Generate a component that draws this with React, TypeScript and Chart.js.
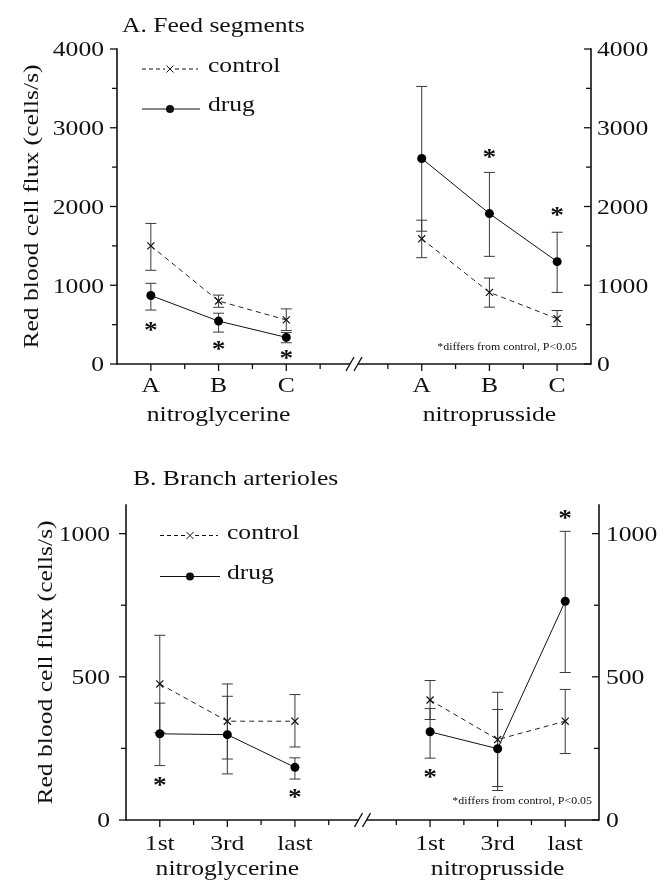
import React, { useEffect, useRef } from 'react';
import { Chart, registerables } from 'chart.js';

Chart.register(...registerables);

const FONT_FAMILY = '"Liberation Serif", "Times New Roman", serif';
const FONT_SIZE = 21.5;
const STRETCH = 1.19;
const INK = '#111111';
const ERR_COLOR = '#3a3a3a';

// shared x layout (linear positions; 7 is the axis break)
const xPositions = [1, 3, 5, 9, 11, 13];
const minorXTicks = [2, 4, 6, 8, 10, 12];
const xMin = 0;
const xMax = 14;
const breakAt = 7;
const groupNames = ['nitroglycerine', 'nitroprusside'];
const groupCenterIndex = [1, 4];
const seriesNames = ['control', 'drug'];
const footnote = '*differs from control, P<0.05';

// ---- Panel A: Feed segments ----
const titleA = 'A. Feed segments';
const categoriesA = ['A', 'B', 'C', 'A', 'B', 'C'];
const controlA = [1500, 800, 560, 1590, 910, 575];
const controlAHigh = [1785, 875, 700, 1826, 1091, 679];
const controlALow = [1190, 720, 425, 1350, 722, 476];
const drugA = [870, 545, 338, 2610, 1910, 1300];
const drugAHigh = [1025, 645, 400, 3525, 2433, 1673];
const drugALow = [685, 405, 270, 1686, 1367, 909];
const starsAX = [1, 3, 5, 11, 13];
const starsAY = [477, 245, 120, 2679, 1936];
const yMaxA = 4000;
const yStepA = 500;
const yLabelStepA = 1000;

// ---- Panel B: Branch arterioles ----
const titleB = 'B. Branch arterioles';
const categoriesB = ['1st', '3rd', 'last', '1st', '3rd', 'last'];
const controlB = [475, 345, 345, 419, 281, 345];
const controlBHigh = [645, 475, 438, 487, 446, 456];
const controlBLow = [305, 213, 255, 351, 117, 232];
const drugB = [301, 298, 184, 308, 249, 764];
const drugBHigh = [408, 432, 217, 389, 386, 1008];
const drugBLow = [190, 161, 143, 216, 103, 515];
const starsBX = [1, 5, 9, 13];
const starsBY = [134, 94, 162, 1069];
const yMaxB = 1100;
const yStepB = 250;
const yLabelStepB = 500;

const yAxisTitle = 'Red blood cell flux (cells/s)';

type Layout = {
  id: string;
  width: number;
  height: number;
  top: number;
  area: { left: number; right: number; top: number; bottom: number };
  titleX: number;
  titleBase: number;
  yTitleX: number;
  leftLabelX: number;
  rightLabelX: number;
  xLabelOffset: number;
  groupOffset: number;
  legend: { x0: number; x1: number; mx: number; textX: number; cY: number; cBase: number; dY: number; dBase: number };
  footRight: number;
  footOffset: number;
};

type PanelDef = {
  layout: Layout;
  title: string;
  categories: string[];
  control: number[];
  controlHigh: number[];
  controlLow: number[];
  drug: number[];
  drugHigh: number[];
  drugLow: number[];
  starsX: number[];
  starsY: number[];
  yMax: number;
  yStep: number;
  yLabelStep: number;
};

const panels: PanelDef[] = [
  {
    layout: {
      id: 'A',
      width: 671,
      height: 440,
      top: 0,
      area: { left: 117, right: 591, top: 49, bottom: 364 },
      titleX: 122,
      titleBase: 31.5,
      yTitleX: 38,
      leftLabelX: 104,
      rightLabelX: 597,
      xLabelOffset: 28,
      groupOffset: 57,
      legend: { x0: 142, x1: 198, mx: 170, textX: 208, cY: 69, cBase: 72, dY: 109, dBase: 111 },
      footRight: 577,
      footOffset: 14,
    },
    title: titleA,
    categories: categoriesA,
    control: controlA,
    controlHigh: controlAHigh,
    controlLow: controlALow,
    drug: drugA,
    drugHigh: drugAHigh,
    drugLow: drugALow,
    starsX: starsAX,
    starsY: starsAY,
    yMax: yMaxA,
    yStep: yStepA,
    yLabelStep: yLabelStepA,
  },
  {
    layout: {
      id: 'B',
      width: 671,
      height: 445,
      top: 440,
      area: { left: 126, right: 599, top: 65, bottom: 380 },
      titleX: 133,
      titleBase: 45,
      yTitleX: 52,
      leftLabelX: 110,
      rightLabelX: 606,
      xLabelOffset: 29.5,
      groupOffset: 55,
      legend: { x0: 160, x1: 218, mx: 190, textX: 227, cY: 95.5, cBase: 99, dY: 136.5, dBase: 139 },
      footRight: 592,
      footOffset: 16,
    },
    title: titleB,
    categories: categoriesB,
    control: controlB,
    controlHigh: controlBHigh,
    controlLow: controlBLow,
    drug: drugB,
    drugHigh: drugBHigh,
    drugLow: drugBLow,
    starsX: starsBX,
    starsY: starsBY,
    yMax: yMaxB,
    yStep: yStepB,
    yLabelStep: yLabelStepB,
  },
];

function drawText(
  ctx: CanvasRenderingContext2D,
  s: string,
  x: number,
  y: number,
  size: number,
  align: CanvasTextAlign,
  rotate = false,
  weight = 'normal'
) {
  ctx.save();
  ctx.translate(x, y);
  if (rotate) ctx.rotate(-Math.PI / 2);
  ctx.scale(STRETCH, 1);
  ctx.font = `${weight} ${size}px ${FONT_FAMILY}`;
  ctx.fillStyle = INK;
  ctx.textAlign = align;
  ctx.textBaseline = 'alphabetic';
  ctx.fillText(s, 0, 0);
  ctx.restore();
}

function seg(ctx: CanvasRenderingContext2D, x1: number, y1: number, x2: number, y2: number) {
  ctx.beginPath();
  ctx.moveTo(x1, y1);
  ctx.lineTo(x2, y2);
  ctx.stroke();
}

function seriesPoints(values: number[]) {
  const pts: { x: number; y: number | null }[] = [];
  xPositions.forEach((x, i) => {
    if (i === 3) pts.push({ x: breakAt, y: null });
    pts.push({ x, y: values[i] });
  });
  return pts;
}

function makePlugin(p: PanelDef) {
  const L = p.layout;
  return {
    id: 'panelDecor' + L.id,
    beforeDatasetsDraw(chart: any) {
      const ctx: CanvasRenderingContext2D = chart.ctx;
      const xs = chart.scales.x;
      const ys = chart.scales.y;
      const a = chart.chartArea;
      ctx.save();
      ctx.strokeStyle = INK;
      ctx.lineWidth = 1.6;
      ctx.lineCap = 'square';
      // y axes
      seg(ctx, a.left, a.top, a.left, a.bottom);
      seg(ctx, a.right, a.top, a.right, a.bottom);
      // x axis with break
      const bx = xs.getPixelForValue(breakAt);
      ctx.lineCap = 'butt';
      seg(ctx, a.left, a.bottom, bx - 4, a.bottom);
      seg(ctx, bx + 4, a.bottom, a.right, a.bottom);
      ctx.lineWidth = 1.4;
      for (const c of [bx - 4, bx + 4]) seg(ctx, c - 4, a.bottom + 7, c + 4, a.bottom - 7);
      // y ticks
      ctx.lineWidth = 1.3;
      for (const t of ys.ticks) {
        const v = t.value;
        if (v % p.yStep !== 0 || v > p.yMax) continue;
        const py = ys.getPixelForValue(v);
        const len = v % p.yLabelStep === 0 ? 7 : 5;
        seg(ctx, a.left - len, py, a.left, py);
        seg(ctx, a.right - len, py, a.right, py);
      }
      // x ticks
      for (const v of xPositions) {
        const px = xs.getPixelForValue(v);
        seg(ctx, px, a.bottom, px, a.bottom + 7);
      }
      for (const v of minorXTicks) {
        const px = xs.getPixelForValue(v);
        seg(ctx, px, a.bottom, px, a.bottom + 5);
      }
      // error bars
      ctx.strokeStyle = ERR_COLOR;
      ctx.lineWidth = 1;
      const bars = [
        [p.controlLow, p.controlHigh],
        [p.drugLow, p.drugHigh],
      ];
      for (const [lo, hi] of bars) {
        xPositions.forEach((xv, i) => {
          const px = xs.getPixelForValue(xv);
          const pl = ys.getPixelForValue(lo[i]);
          const ph = ys.getPixelForValue(hi[i]);
          seg(ctx, px, pl, px, ph);
          seg(ctx, px - 5.5, pl, px + 5.5, pl);
          seg(ctx, px - 5.5, ph, px + 5.5, ph);
        });
      }
      ctx.restore();
    },
    afterDraw(chart: any) {
      const ctx: CanvasRenderingContext2D = chart.ctx;
      const xs = chart.scales.x;
      const ys = chart.scales.y;
      const a = chart.chartArea;
      ctx.save();
      // panel title
      drawText(ctx, p.title, L.titleX, L.titleBase, FONT_SIZE, 'left');
      // y axis title
      drawText(ctx, yAxisTitle, L.yTitleX, (a.top + a.bottom) / 2, FONT_SIZE, 'center', true);
      // y tick labels
      const digitHalf = 0.676 * FONT_SIZE * 0.5;
      for (const t of ys.ticks) {
        const v = t.value;
        if (v % p.yLabelStep !== 0 || v > p.yMax) continue;
        const py = ys.getPixelForValue(v);
        drawText(ctx, String(v), L.leftLabelX, py + digitHalf, FONT_SIZE, 'left' === 'left' ? 'right' : 'right');
        drawText(ctx, String(v), L.rightLabelX, py + digitHalf, FONT_SIZE, 'left');
      }
      // x tick labels
      xPositions.forEach((xv, i) => {
        const px = xs.getPixelForValue(xv);
        drawText(ctx, p.categories[i], px, a.bottom + L.xLabelOffset, FONT_SIZE, 'center');
      });
      groupNames.forEach((g, gi) => {
        const px = xs.getPixelForValue(xPositions[groupCenterIndex[gi]]);
        drawText(ctx, g, px, a.bottom + L.groupOffset, FONT_SIZE, 'center');
      });
      // legend
      const lg = L.legend;
      ctx.strokeStyle = INK;
      ctx.lineWidth = 1;
      ctx.setLineDash([4, 3]);
      seg(ctx, lg.x0, lg.cY, lg.mx - 5, lg.cY);
      seg(ctx, lg.mx + 5, lg.cY, lg.x1, lg.cY);
      ctx.setLineDash([]);
      seg(ctx, lg.mx - 3.5, lg.cY - 3.5, lg.mx + 3.5, lg.cY + 3.5);
      seg(ctx, lg.mx - 3.5, lg.cY + 3.5, lg.mx + 3.5, lg.cY - 3.5);
      drawText(ctx, seriesNames[0], lg.textX, lg.cBase, FONT_SIZE, 'left');
      seg(ctx, lg.x0, lg.dY, lg.x1 + 2, lg.dY);
      ctx.fillStyle = INK;
      ctx.beginPath();
      ctx.arc(lg.mx, lg.dY, 4, 0, Math.PI * 2);
      ctx.fill();
      drawText(ctx, seriesNames[1], lg.textX, lg.dBase, FONT_SIZE, 'left');
      // footnote
      drawText(ctx, footnote, L.footRight, a.bottom - L.footOffset, 10, 'right');
      // significance stars
      const starSize = 23;
      p.starsX.forEach((xv, i) => {
        const px = xs.getPixelForValue(xv);
        const py = ys.getPixelForValue(p.starsY[i]);
        drawText(ctx, '*', px, py + 0.47 * starSize, starSize, 'center', false, 'bold');
      });
      ctx.restore();
    },
  };
}

function Panel({ p }: { p: PanelDef }) {
  const ref = useRef<HTMLCanvasElement>(null);
  const L = p.layout;
  useEffect(() => {
    if (!ref.current) return;
    const chart = new Chart(ref.current, {
      type: 'line',
      data: {
        datasets: [
          {
            label: seriesNames[0],
            data: seriesPoints(p.control) as any,
            borderColor: '#222222',
            borderWidth: 1,
            borderDash: [5, 4],
            pointStyle: 'crossRot',
            pointRadius: 5,
            pointBorderWidth: 1.2,
            pointBorderColor: '#111111',
            pointBackgroundColor: '#111111',
            spanGaps: false,
            yAxisID: 'y',
          },
          {
            label: seriesNames[1],
            data: seriesPoints(p.drug) as any,
            borderColor: '#111111',
            borderWidth: 1,
            pointStyle: 'circle',
            pointRadius: 4.5,
            pointBorderWidth: 0,
            pointBackgroundColor: '#000000',
            spanGaps: false,
            yAxisID: 'y',
          },
        ],
      },
      options: {
        animation: false,
        responsive: false,
        devicePixelRatio: 1,
        layout: { padding: { top: L.area.top, left: 0, right: 0, bottom: 0 } },
        plugins: { legend: { display: false }, tooltip: { enabled: false }, title: { display: false } },
        events: [],
        scales: {
          x: {
            type: 'linear',
            min: xMin,
            max: xMax,
            ticks: { display: false, stepSize: 1 },
            grid: { display: false, drawTicks: false },
            border: { display: false },
            afterFit: (s: any) => {
              s.height = L.height - L.area.bottom;
            },
          },
          y: {
            type: 'linear',
            position: 'left',
            min: 0,
            max: p.yMax,
            ticks: { display: false, stepSize: p.yStep, includeBounds: false },
            grid: { display: false, drawTicks: false },
            border: { display: false },
            afterFit: (s: any) => {
              s.width = L.area.left;
            },
          },
          y2: {
            type: 'linear',
            position: 'right',
            display: true,
            min: 0,
            max: p.yMax,
            ticks: { display: false, stepSize: p.yStep },
            grid: { display: false, drawTicks: false },
            border: { display: false },
            afterFit: (s: any) => {
              s.width = L.width - L.area.right;
            },
          },
        },
      } as any,
      plugins: [makePlugin(p)],
    });
    return () => chart.destroy();
  }, []);
  return (
    <canvas
      ref={ref}
      width={L.width}
      height={L.height}
      style={{ position: 'absolute', left: 0, top: L.top, width: L.width, height: L.height }}
    />
  );
}

export default function App() {
  return (
    <div style={{ position: 'absolute', left: 0, top: 0, width: 671, height: 885, background: '#ffffff' }}>
      {panels.map((p) => (
        <Panel key={p.layout.id} p={p} />
      ))}
    </div>
  );
}
